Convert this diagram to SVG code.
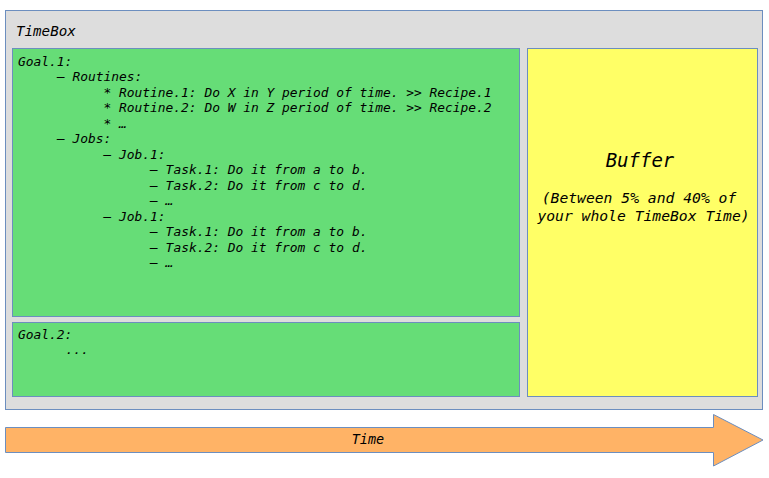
<svg xmlns="http://www.w3.org/2000/svg" width="769" height="478" viewBox="0 0 769 478">
<style>
  .box { stroke: #6c8ebf; stroke-width: 1; }
  .t { font-family: "DejaVu Sans Mono", "Liberation Mono", monospace; font-style: italic; fill: #000000; }
  .body { font-size: 12.9px; }
</style>
<rect width="769" height="478" fill="#ffffff"/>
<g id="timebox">
  <rect class="box" x="5.5" y="10.5" width="757" height="399" fill="#dddddd"/>
  <text class="t" x="16" y="35.7" font-size="14.2px">TimeBox</text>
</g>
<g id="goal1">
  <rect class="box" x="12.5" y="48.5" width="507" height="268" fill="#66dd77"/>
  <g class="t body">
    <text x="18" y="65.7">Goal.1:</text>
    <text x="56.9" y="81.2">– Routines:</text>
    <text x="103.5" y="96.7">* Routine.1: Do X in Y period of time. &gt;&gt; Recipe.1</text>
    <text x="103.5" y="112.2">* Routine.2: Do W in Z period of time. &gt;&gt; Recipe.2</text>
    <text x="103.5" y="127.7">* …</text>
    <text x="56.9" y="143.2">– Jobs:</text>
    <text x="103.5" y="158.7">– Job.1:</text>
    <text x="150.1" y="174.2">– Task.1: Do it from a to b.</text>
    <text x="150.1" y="189.7">– Task.2: Do it from c to d.</text>
    <text x="150.1" y="205.2">– …</text>
    <text x="103.5" y="220.7">– Job.1:</text>
    <text x="150.1" y="236.2">– Task.1: Do it from a to b.</text>
    <text x="150.1" y="251.7">– Task.2: Do it from c to d.</text>
    <text x="150.1" y="267.2">– …</text>
  </g>
</g>
<g id="goal2">
  <rect class="box" x="12.5" y="322.5" width="507" height="74" fill="#66dd77"/>
  <g class="t body">
    <text x="18" y="339">Goal.2:</text>
    <text x="65.5" y="354.3">...</text>
  </g>
</g>
<g id="buffer">
  <rect class="box" x="527.5" y="48.5" width="230" height="348" fill="#ffff66"/>
  <text class="t" x="640" y="166.7" font-size="19px" text-anchor="middle">Buffer</text>
  <text class="t" x="639" y="202.7" font-size="14.7px" text-anchor="middle">(Between 5% and 40% of</text>
  <text class="t" x="643.5" y="220.7" font-size="14.7px" text-anchor="middle">your whole TimeBox Time)</text>
</g>
<g id="time">
  <path class="box" d="M5.5,427.5 H713.5 V414.5 L763,440 L713.5,466 V452.5 H5.5 Z" fill="#ffb366"/>
  <text class="t" x="368" y="444.3" font-size="13.5px" text-anchor="middle">Time</text>
</g>
<g id="connectors"></g>
</svg>
